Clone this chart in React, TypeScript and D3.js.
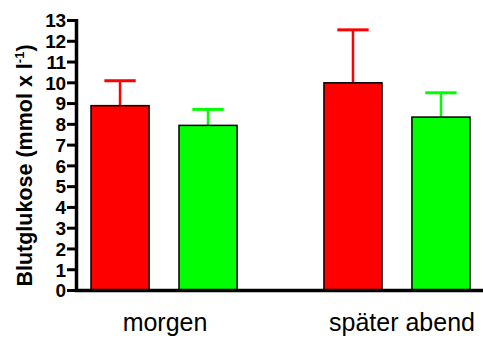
import * as d3 from "d3";
import React from "react";

const categories = ["morgen", "später abend"];
const seriesKeys = ["rot", "gruen"];
const seriesColors = ["#ff0000", "#00ff00"];
// mean values per series, one entry per category
const redMeans = [8.9, 10.0];
const redErrors = [10.1, 12.55];
const greenMeans = [7.95, 8.35];
const greenErrors = [8.72, 9.52];
const yTicks = d3.range(0, 14);

const W = 483;
const H = 340;

const App: React.FC = () => {
  const x0 = d3.scaleBand<string>().domain(categories).range([91, 470]).paddingInner(0.373).paddingOuter(0);
  const x1 = d3.scaleBand<string>().domain(seriesKeys).range([0, x0.bandwidth()]).paddingInner(0.34).paddingOuter(0);
  const y = d3.scaleLinear().domain([0, 13]).range([290.5, 20.5]);

  const means = [redMeans, greenMeans];
  const errs = [redErrors, greenErrors];
  const axisX = 76.5;
  const font = "Arial, 'Liberation Sans', sans-serif";

  return (
    <svg width={W} height={H} style={{ position: "absolute", left: 0, top: 0, background: "#fff" }}>
      {categories.map((c, ci) => (
        <g key={c} transform={`translate(${x0(c)},0)`}>
          {seriesKeys.map((s, si) => {
            const bx = x1(s) as number;
            const bw = x1.bandwidth();
            const cx = bx + bw / 2;
            const capW = bw * 0.54;
            const v = means[si][ci];
            const e = errs[si][ci];
            return (
              <g key={s}>
                <line x1={cx} x2={cx} y1={y(v)} y2={y(e)} stroke={seriesColors[si]} strokeWidth={2.5} />
                <line x1={cx - capW / 2} x2={cx + capW / 2} y1={y(e)} y2={y(e)} stroke={seriesColors[si]} strokeWidth={3} />
                <rect x={bx} y={y(v)} width={bw} height={y(0) - y(v)} fill={seriesColors[si]} stroke="#000" strokeWidth={1.5} />
              </g>
            );
          })}
          <text
            x={x0.bandwidth() / 2}
            dx={ci === 1 ? 5 : 1}
            y={331}
            textAnchor="middle"
            fontFamily={font}
            fontSize={25}
            fill="#000"
          >
            {c}
          </text>
        </g>
      ))}
      {/* y axis */}
      <line x1={axisX} x2={axisX} y1={y(13) - 1.5} y2={y(0) + 1.5} stroke="#000" strokeWidth={3.5} />
      {yTicks.map((t) => (
        <g key={t}>
          <line x1={67} x2={axisX} y1={y(t)} y2={y(t)} stroke="#000" strokeWidth={3} />
          <text
            x={65.5}
            y={y(t)}
            dy="0.36em"
            textAnchor="end"
            fontFamily={font}
            fontWeight="bold"
            fontSize={19}
            letterSpacing={-0.5}
            fill="#000"
          >
            {t}
          </text>
        </g>
      ))}
      {/* x axis */}
      <line x1={axisX - 1.75} x2={W} y1={y(0)} y2={y(0)} stroke="#000" strokeWidth={3.5} />
      <text
        transform={`translate(32,${(y(0) + y(13)) / 2 + 10}) rotate(-90)`}
        textAnchor="middle"
        fontFamily={font}
        fontWeight="bold"
        fontSize={21.5}
        fill="#000"
      >
        Blutglukose (mmol x l
        <tspan dy={-8} fontSize={13}>-1</tspan>
        <tspan dy={8}>)</tspan>
      </text>
    </svg>
  );
};

export default App;
